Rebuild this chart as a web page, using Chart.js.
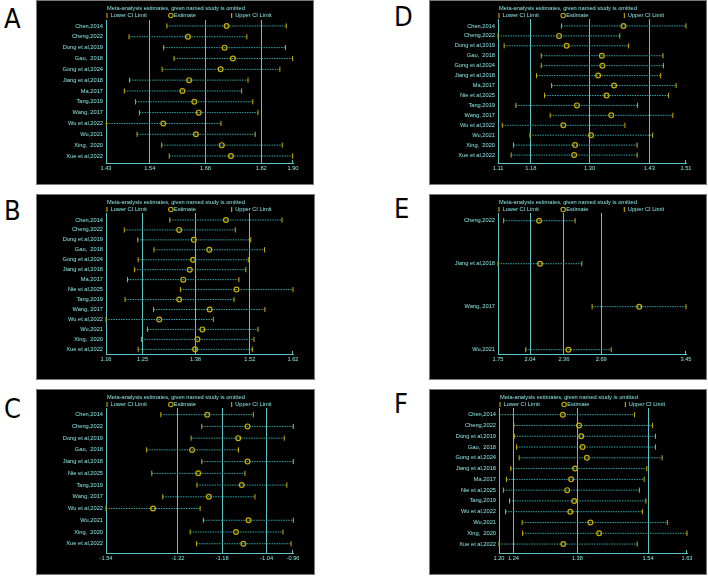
<!DOCTYPE html>
<html>
<head>
<meta charset="utf-8">
<script src="https://cdn.jsdelivr.net/npm/chart.js@4"></script>
<style>
  body { margin: 0; background: #fff; }
  #page { position: relative; width: 708px; height: 576px; overflow: hidden; }
  .tag { position: absolute; font-family: 'Liberation Sans Narrow', 'DejaVu Sans Condensed', sans-serif; font-size: 27px; line-height: 1; color: #000; }
  .box { position: absolute; background: #000; outline: 1px solid #7a7a7a; }
  .box canvas { display: block; }
</style>
</head>
<body>
<div id="page"></div>
<script>
// panel A
const aStudies = ['Chen,2014', 'Cheng,2022', 'Dong et al,2019', 'Gao,  2018', 'Gong et al,2024', 'Jiang et al,2018', 'Ma,2017', 'Tang,2019', 'Wang, 2017', 'Wu et al,2022', 'Wu,2021', 'Xing,  2020', 'Xue et al,2022'];
const aLower = [1.583, 1.488, 1.575, 1.601, 1.571, 1.489, 1.476, 1.504, 1.514, 1.431, 1.508, 1.570, 1.589];
const aEst   = [1.733, 1.636, 1.728, 1.749, 1.718, 1.639, 1.622, 1.652, 1.663, 1.574, 1.656, 1.721, 1.744];
const aUpper = [1.883, 1.784, 1.881, 1.899, 1.867, 1.787, 1.771, 1.799, 1.812, 1.719, 1.805, 1.873, 1.899];
const aTicks = [1.43, 1.54, 1.68, 1.82, 1.90];
const aTickLabels = ['1.43', '1.54', '1.68', '1.82', '1.90'];

// panel B
const bStudies = ['Chen,2014', 'Cheng,2022', 'Dong et al,2019', 'Gao,  2018', 'Gong et al,2024', 'Jiang et al,2018', 'Ma,2017', 'Nie et al,2025', 'Tang,2019', 'Wang, 2017', 'Wu et al,2022', 'Wu,2021', 'Xing,  2020', 'Xue et al,2022'];
const bLower = [1.317, 1.205, 1.238, 1.278, 1.239, 1.230, 1.213, 1.343, 1.207, 1.277, 1.160, 1.262, 1.247, 1.239];
const bEst   = [1.455, 1.340, 1.376, 1.414, 1.374, 1.366, 1.350, 1.481, 1.340, 1.415, 1.291, 1.397, 1.385, 1.379];
const bUpper = [1.593, 1.478, 1.516, 1.550, 1.510, 1.504, 1.487, 1.620, 1.475, 1.551, 1.424, 1.534, 1.524, 1.520];
const bTicks = [1.16, 1.25, 1.38, 1.514, 1.62];
const bTickLabels = ['1.16', '1.25', '1.38', '1.52', '1.62'];

// panel C
const cStudies = ['Chen,2014', 'Cheng,2022', 'Dong et al,2019', 'Gao,  2018', 'Jiang et al,2018', 'Nie et al,2025', 'Tang,2019', 'Wang, 2017', 'Wu et al,2022', 'Wu,2021', 'Xing,  2020', 'Xue et al,2022'];
const cLower = [-1.370, -1.243, -1.276, -1.414, -1.243, -1.398, -1.258, -1.364, -1.540, -1.238, -1.279, -1.259];
const cEst   = [-1.226, -1.101, -1.130, -1.273, -1.101, -1.254, -1.119, -1.221, -1.394, -1.098, -1.137, -1.114];
const cUpper = [-1.083, -0.959, -0.987, -1.129, -0.959, -1.109, -0.979, -1.078, -1.248, -0.959, -0.991, -0.966];
const cTicks = [-1.54, -1.317, -1.18, -1.042, -0.96];
const cTickLabels = ['-1.54', '-1.32', '-1.18', '-1.04', '-0.96'];

// panel D
const dStudies = bStudies;
const dLower = [1.245, 1.110, 1.123, 1.202, 1.202, 1.192, 1.224, 1.209, 1.148, 1.221, 1.119, 1.178, 1.143, 1.138];
const dEst   = [1.377, 1.240, 1.256, 1.331, 1.332, 1.323, 1.357, 1.341, 1.278, 1.351, 1.249, 1.308, 1.274, 1.272];
const dUpper = [1.510, 1.369, 1.388, 1.461, 1.462, 1.456, 1.489, 1.473, 1.407, 1.482, 1.380, 1.439, 1.406, 1.406];
const dTicks = [1.11, 1.18, 1.305, 1.432, 1.51];
const dTickLabels = ['1.11', '1.18', '1.30', '1.43', '1.51'];

// panel E
const eStudies = ['Cheng,2022', 'Jiang et al,2018', 'Wang, 2017', 'Wu,2021'];
const eLower = [1.801, 1.750, 2.601, 2.001];
const eEst   = [2.121, 2.130, 3.027, 2.387];
const eUpper = [2.447, 2.508, 3.450, 2.774];
const eTicks = [1.75, 2.04, 2.346, 2.683, 3.45];
const eTickLabels = ['1.75', '2.04', '2.36', '2.69', '3.45'];

// panel F
const fStudies = ['Chen,2014', 'Cheng,2022', 'Dong et al,2019', 'Gao,  2018', 'Gong et al,2024', 'Jiang et al,2018', 'Ma,2017', 'Nie et al,2025', 'Tang,2019', 'Wu et al,2022', 'Wu,2021', 'Xing,  2020', 'Xue et al,2022'];
const fLower = [1.201, 1.234, 1.235, 1.240, 1.246, 1.227, 1.217, 1.210, 1.224, 1.215, 1.253, 1.254, 1.200];
const fEst   = [1.346, 1.383, 1.388, 1.391, 1.401, 1.374, 1.365, 1.356, 1.372, 1.363, 1.409, 1.429, 1.347];
const fUpper = [1.510, 1.551, 1.558, 1.558, 1.573, 1.538, 1.532, 1.521, 1.536, 1.528, 1.585, 1.630, 1.516];
const fTicks = [1.20, 1.233, 1.379, 1.541, 1.63];
const fTickLabels = ['1.20', '1.24', '1.38', '1.54', '1.63'];

const titleText = 'Meta-analysis estimates, given named study is omitted';

const CYAN = '#8ce4e4';
const GRID = '#5cc4c4';
const DOTS = '#35a0a0';
const YELLOW = '#c6ae00';
const FONT_FAMILY = "'Liberation Sans', Arial, sans-serif";
const FONT_SIZE = 5.7;

// box geometry + plot area inside each box (pixels), y range in row units
const panels = [
  { tag: 'A', studies: aStudies, lower: aLower, est: aEst, upper: aUpper, ticks: aTicks, tickLabels: aTickLabels,
    box: [37, 1, 276, 183], plot: [69, 19, 256, 162], yMin: -0.55, yMax: 12.65, tagPos: [4, 5] },
  { tag: 'B', studies: bStudies, lower: bLower, est: bEst, upper: bUpper, ticks: bTicks, tickLabels: bTickLabels,
    box: [37, 195, 277, 184], plot: [69, 18, 256, 159], yMin: -0.7, yMax: 13.47, tagPos: [4, 197] },
  { tag: 'C', studies: cStudies, lower: cLower, est: cEst, upper: cUpper, ticks: cTicks, tickLabels: cTickLabels,
    box: [37, 390, 277, 184], plot: [69, 18, 256, 163], yMin: -0.57, yMax: 11.79, tagPos: [4, 395] },
  { tag: 'D', studies: dStudies, lower: dLower, est: dEst, upper: dUpper, ticks: dTicks, tickLabels: dTickLabels,
    box: [430, 1, 276, 183], plot: [68, 18, 256, 162], yMin: -0.7, yMax: 13.8, tagPos: [394, 3] },
  { tag: 'E', studies: eStudies, lower: eLower, est: eEst, upper: eUpper, ticks: eTicks, tickLabels: eTickLabels,
    box: [430, 195, 276, 184], plot: [68, 18, 256, 159], yMin: -0.18, yMax: 3.1, tagPos: [394, 195] },
  { tag: 'F', studies: fStudies, lower: fLower, est: fEst, upper: fUpper, ticks: fTicks, tickLabels: fTickLabels,
    box: [430, 390, 276, 184], plot: [69, 18, 257, 163], yMin: -0.62, yMax: 12.83, tagPos: [394, 390] }
];

// title + legend row at the top of each box
const headerPlugin = {
  id: 'header',
  afterDraw(chart) {
    const { ctx, chartArea: a } = chart;
    const w = a.right - a.left;
    ctx.save();
    ctx.font = FONT_SIZE + 'px ' + FONT_FAMILY;
    ctx.textBaseline = 'middle';
    ctx.fillStyle = CYAN;
    ctx.fillText(titleText, a.left + 1, 7.5);

    const ly = 14.5;
    const items = chart.data.datasets.filter(d => d.legend);
    items.forEach((d, i) => {
      const x = a.left + 1 + i * w / 3;
      ctx.strokeStyle = YELLOW;
      ctx.lineWidth = 1.1;
      ctx.beginPath();
      if (d.pointStyle === 'circle') {
        ctx.arc(x + 1.5, ly, 2.2, 0, Math.PI * 2);
        ctx.stroke();
        ctx.fillText(d.label, x + 4.5, ly);
      } else {
        ctx.moveTo(x, ly - 2.5);
        ctx.lineTo(x, ly + 2.5);
        ctx.stroke();
        ctx.fillText(d.label, x + 3.5, ly);
      }
    });

    // small tick at the right end of the x axis
    ctx.strokeStyle = GRID;
    ctx.lineWidth = 1;
    ctx.beginPath();
    ctx.moveTo(a.right - 0.5, a.bottom);
    ctx.lineTo(a.right - 0.5, a.bottom - 3);
    ctx.stroke();
    ctx.restore();
  }
};

const page = document.getElementById('page');

panels.forEach(p => {
  const [bx, by, bw, bh] = p.box;
  const [pl, pt, pr, pb] = p.plot;

  const tag = document.createElement('div');
  tag.className = 'tag';
  tag.textContent = p.tag;
  tag.style.left = p.tagPos[0] + 'px';
  tag.style.top = p.tagPos[1] + 'px';
  page.appendChild(tag);

  const box = document.createElement('div');
  box.className = 'box';
  box.style.left = bx + 'px';
  box.style.top = by + 'px';
  box.style.width = bw + 'px';
  box.style.height = bh + 'px';
  const canvas = document.createElement('canvas');
  canvas.width = bw;
  canvas.height = bh;
  box.appendChild(canvas);
  page.appendChild(box);

  // dotted CI line for every study
  const ciLines = p.studies.map((s, i) => ({
    data: [{ x: p.lower[i], y: i }, { x: p.upper[i], y: i }],
    showLine: true,
    borderColor: DOTS,
    backgroundColor: DOTS,
    borderWidth: 1,
    borderDash: [1.5, 1],
    pointRadius: 0,
    clip: false,
    order: 2
  }));

  const marker = (label, values, style) => ({
    label: label,
    legend: true,
    data: values.map((v, i) => ({ x: v, y: i })),
    pointStyle: style,
    rotation: style === 'line' ? 90 : 0,
    pointRadius: style === 'line' ? 2.6 : 2.4,
    borderColor: YELLOW,
    backgroundColor: 'rgba(0,0,0,0)',
    pointBorderWidth: style === 'line' ? 1 : 1.2,
    borderWidth: style === 'line' ? 1 : 1.2,
    clip: false,
    order: 1
  });

  new Chart(canvas.getContext('2d'), {
    type: 'scatter',
    data: {
      datasets: [
        marker('Lower CI Limit', p.lower, 'line'),
        marker('Estimate', p.est, 'circle'),
        marker('Upper CI Limit', p.upper, 'line'),
        ...ciLines
      ]
    },
    options: {
      responsive: false,
      animation: false,
      devicePixelRatio: 1,
      events: [],
      layout: { padding: { top: pt, right: bw - pr, left: 0, bottom: 0 } },
      plugins: { legend: { display: false }, tooltip: { enabled: false }, title: { display: false } },
      scales: {
        x: {
          type: 'linear',
          min: p.ticks[0],
          max: p.ticks[p.ticks.length - 1],
          afterBuildTicks: s => { s.ticks = p.ticks.map(v => ({ value: v })); },
          afterFit: s => { s.height = bh - pb; },
          grid: {
            color: c => (c.index > 0 && c.index < p.ticks.length - 1) ? GRID : 'rgba(0,0,0,0)',
            lineWidth: 1,
            drawTicks: false
          },
          border: { display: true, color: GRID, width: 1 },
          ticks: {
            autoSkip: false,
            maxRotation: 0,
            padding: 2,
            color: CYAN,
            font: { family: FONT_FAMILY, size: FONT_SIZE },
            callback: (v, i) => p.tickLabels[i]
          }
        },
        y: {
          type: 'linear',
          reverse: true,
          min: p.yMin,
          max: p.yMax,
          afterBuildTicks: s => { s.ticks = p.studies.map((_, i) => ({ value: i })); },
          afterFit: s => { s.width = pl; },
          grid: { display: false, drawTicks: false },
          border: { display: true, color: GRID, width: 1 },
          ticks: {
            autoSkip: false,
            padding: 3,
            color: CYAN,
            font: { family: FONT_FAMILY, size: FONT_SIZE },
            callback: v => p.studies[v]
          }
        }
      }
    },
    plugins: [headerPlugin]
  });
});
</script>
</body>
</html>
